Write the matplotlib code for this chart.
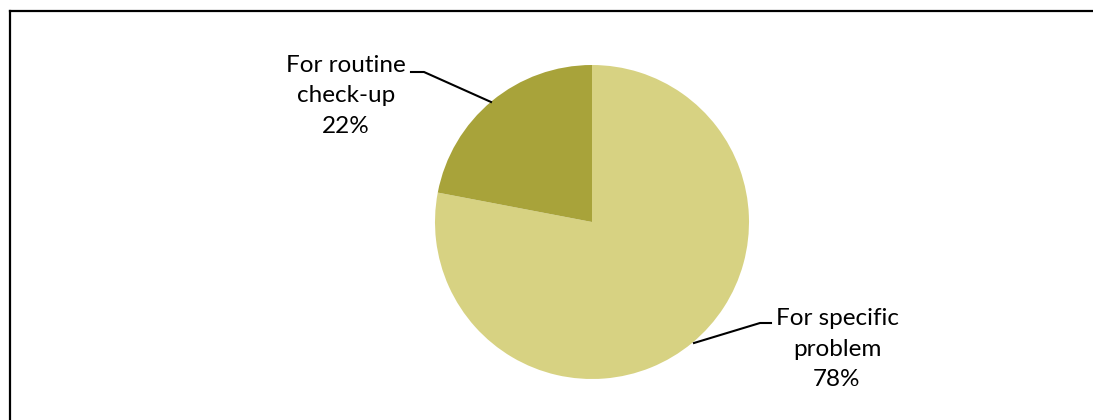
import matplotlib.pyplot as plt
from matplotlib.lines import Line2D

labels = ["For specific\nproblem", "For routine\ncheck-up"]
shares = [78, 22]
colors = ["#D7D282", "#A8A33A"]

fig = plt.figure(figsize=(10.93, 4.2), dpi=100)
ax = fig.add_axes([0, 0, 1, 1])

# pie starts at 12 o'clock and runs clockwise
ax.pie(shares, colors=colors, startangle=90, counterclock=False,
       center=(592, 198), radius=157, frame=True)
ax.set_xlim(0, 1093)
ax.set_ylim(0, 420)
ax.axis("off")

font = dict(family=["Lato", "DejaVu Sans"], fontsize=17.5, ha="center",
            va="center", linespacing=1.58)

ax.text(346, 420 - 96, f"{labels[1]}\n{shares[1]}%", **font)
ax.text(837, 420 - 349, f"{labels[0]}\n{shares[0]}%", **font)

# leader lines
ax.plot([411, 424, 491], [420 - 72, 420 - 72, 420 - 102], color="black", lw=1.5)
ax.plot([694, 760, 771], [420 - 343, 420 - 323, 420 - 323], color="black", lw=1.5)

# outer frame (open to the right and bottom)
fig.add_artist(Line2D([9.5 / 1093, 9.5 / 1093], [0, 1 - 10.5 / 420], color="black", lw=1.6))
fig.add_artist(Line2D([9.5 / 1093, 1], [1 - 10.5 / 420, 1 - 10.5 / 420], color="black", lw=1.6))

fig.savefig("out.png", dpi=100)
